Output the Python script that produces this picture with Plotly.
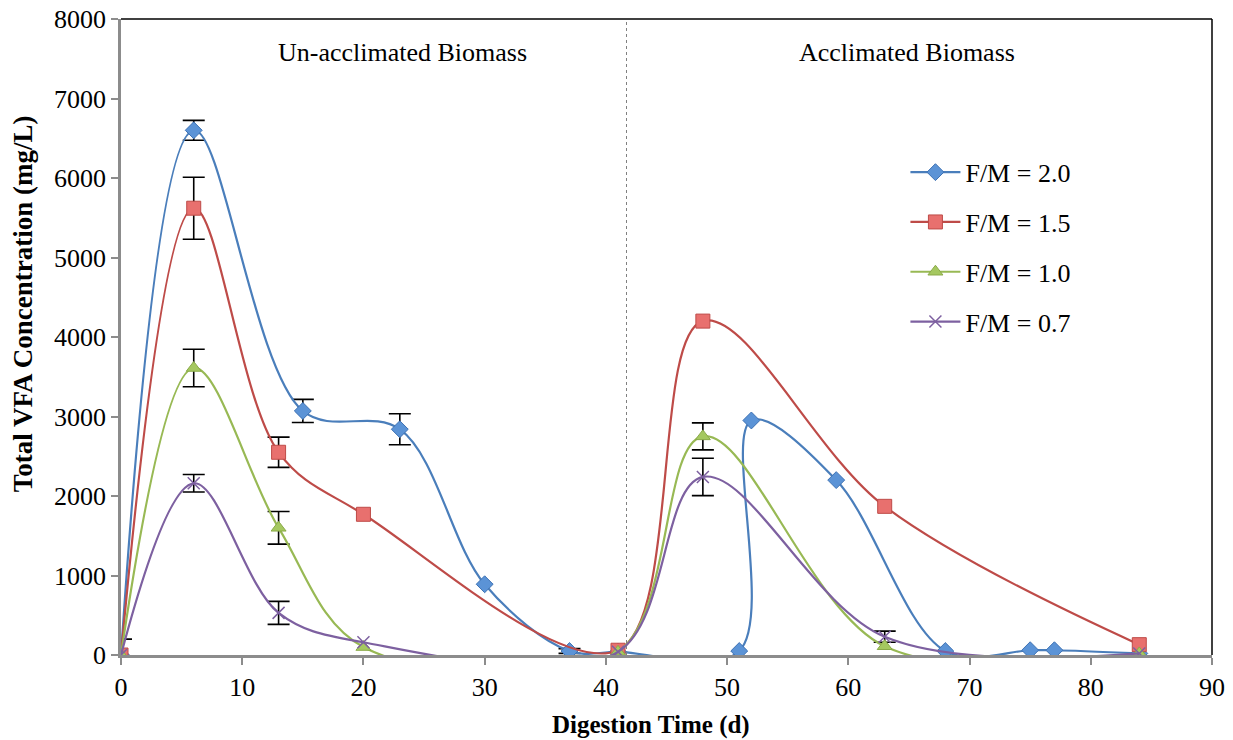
import plotly.graph_objects as go

# ---- data ----
days_20 = [0, 6, 15, 23, 30, 37, 41, 51, 52, 59, 68, 75, 77, 84]
vfa_20 = [0, 6600, 3070, 2840, 890, 50, 40, 50, 2950, 2200, 50, 60, 60, 20]
err_20 = [None, 125, 145, 195, None, 30, None, None, None, None, None, None, None, None]

days_15 = [0, 6, 13, 20, 41, 48, 63, 84]
vfa_15 = [0, 5620, 2550, 1770, 60, 4200, 1870, 130]
err_15 = [200, 390, 190, None, None, None, None, None]

days_10 = [0, 6, 13, 20, 41, 48, 63, 84]
vfa_10 = [0, 3610, 1600, 100, 40, 2750, 110, 20]
err_10 = [None, 235, 205, None, None, 170, None, None]

days_07 = [0, 6, 13, 20, 41, 48, 63, 84]
vfa_07 = [0, 2160, 530, 160, 40, 2240, 230, 20]
err_07 = [None, 110, 145, None, None, 235, 70, None]

series_names = ["F/M = 2.0", "F/M = 1.5", "F/M = 1.0", "F/M = 0.7"]
x_ticks = [0, 10, 20, 30, 40, 50, 60, 70, 80, 90]
y_ticks = [0, 1000, 2000, 3000, 4000, 5000, 6000, 7000, 8000]
phase_split = 41.7
phase_labels = ["Un-acclimated Biomass", "Acclimated Biomass"]
phase_label_x = [23.2, 64.8]
phase_label_y = 7580

FONT = "Liberation Serif"

styles = [
    dict(line="#4A7EBB", fill="#5B93D6", edge="#3E72B4", symbol="diamond", size=13),
    dict(line="#BE4B48", fill="#E8706E", edge="#BE4B48", symbol="square", size=14),
    dict(line="#98B954", fill="#A5C860", edge="#8AAA48", symbol="triangle-up", size=13),
    dict(line="#7D60A0", fill="#7D60A0", edge="#7D60A0", symbol="x-thin", size=12),
]

data = [(days_20, vfa_20, err_20), (days_15, vfa_15, err_15),
        (days_10, vfa_10, err_10), (days_07, vfa_07, err_07)]

fig = go.Figure()

# error bars only at points that have them
for xs, ys, es in data:
    ex = [x for x, e in zip(xs, es) if e is not None]
    ey = [y for y, e in zip(ys, es) if e is not None]
    ee = [e for e in es if e is not None]
    fig.add_trace(go.Scatter(
        x=ex, y=ey, mode="markers", marker=dict(opacity=0, size=1),
        error_y=dict(type="data", array=ee, visible=True, color="black",
                     thickness=1.6, width=11),
        showlegend=False, hoverinfo="skip",
    ))

for i, ((xs, ys, es), name, st) in enumerate(zip(data, series_names, styles)):
    fig.add_trace(go.Scatter(
        x=xs, y=ys, name=name, mode="lines+markers",
        line=dict(color=st["line"], width=2.2, shape="spline", smoothing=1.0),
        marker=dict(symbol=st["symbol"], size=st["size"], color=st["fill"],
                    line=dict(color=st["edge"], width=1.5 if st["symbol"] == "x-thin" else 1)),
        legendgroup=f"g{i}",
    ))

fig.add_shape(type="line", x0=phase_split, x1=phase_split, y0=0, y1=1,
              xref="x", yref="paper", line=dict(color="#808080", width=1, dash="dot"))
# black frame on top and right
fig.add_shape(type="line", x0=0, x1=1, y0=1, y1=1, xref="paper", yref="paper",
              line=dict(color="black", width=1.5))
fig.add_shape(type="line", x0=1, x1=1, y0=0, y1=1, xref="paper", yref="paper",
              line=dict(color="black", width=1.5))

for lx, lt in zip(phase_label_x, phase_labels):
    fig.add_annotation(x=lx, y=phase_label_y, text=lt, showarrow=False,
                       xref="x", yref="y", font=dict(family=FONT, size=26, color="black"))

fig.add_annotation(x=0.486, y=-0.110, xref="paper", yref="paper", showarrow=False,
                   xanchor="center", yanchor="middle",
                   text="<b>Digestion Time (d)</b>", font=dict(family=FONT, size=25, color="black"))
fig.add_annotation(x=-0.0895, y=0.552, xref="paper", yref="paper", showarrow=False,
                   xanchor="center", yanchor="middle",
                   textangle=-90, text="<b>Total VFA Concentration (mg/L)</b>",
                   font=dict(family=FONT, size=27, color="black"))

fig.update_layout(
    width=1233, height=740,
    margin=dict(l=121, r=21, t=19, b=85),
    paper_bgcolor="white", plot_bgcolor="white",
    font=dict(family=FONT, size=26, color="black"),
    showlegend=True,
    legend=dict(x=0.719, y=0.796, xanchor="left", yanchor="top",
                font=dict(family=FONT, size=26, color="black"),
                bgcolor="rgba(0,0,0,0)", tracegroupgap=13, itemwidth=50),
)
fig.update_xaxes(range=[0, 90], tickvals=x_ticks, ticktext=[str(v) for v in x_ticks],
                 showgrid=False, zeroline=False, showline=True, linecolor="#8C8C8C",
                 linewidth=2.5, ticks="outside", ticklen=7, tickcolor="#8C8C8C", tickwidth=1.5,
                 tickfont=dict(family=FONT, size=26), automargin=False,
                 ticklabeloverflow="allow")
fig.update_yaxes(range=[0, 8000], tickvals=y_ticks, ticktext=[str(v) for v in y_ticks],
                 showgrid=False, zeroline=False, showline=True, linecolor="#8C8C8C",
                 linewidth=2.5, ticks="outside", ticklen=7, tickcolor="#8C8C8C", tickwidth=1.5,
                 tickfont=dict(family=FONT, size=26), automargin=False,
                 ticklabeloverflow="allow")

fig.write_html("out.html", config={"displayModeBar": False},
               post_script="document.body.style.margin='0';document.body.style.overflow='hidden';")
